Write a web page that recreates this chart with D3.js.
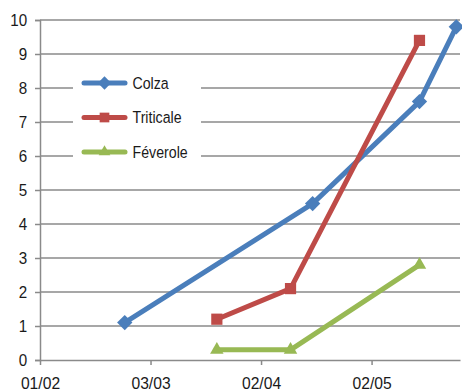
<!DOCTYPE html>
<html>
<head>
<meta charset="utf-8">
<title>Chart</title>
<script src="https://d3js.org/d3.v7.min.js"></script>
<style>
  body { margin: 0; background: #fff; }
  text { font-family: "Liberation Sans", Arial, sans-serif; font-size: 16.5px; fill: #1a1a1a; }
</style>
</head>
<body>
<svg width="462" height="392"></svg>
<script>
// dates are day/month, all in the same season
const xTicks = ["01/02", "03/03", "02/04", "02/05"];
const colzaDates = ["24/02", "16/04", "15/05", "25/05"];
const colzaValues = [1.1, 4.6, 7.6, 9.8];
const triticaleDates = ["21/03", "10/04", "15/05"];
const triticaleValues = [1.2, 2.1, 9.4];
const feveroleDates = ["21/03", "10/04", "15/05"];
const feveroleValues = [0.3, 0.3, 2.8];
const yTicks = [0, 1, 2, 3, 4, 5, 6, 7, 8, 9, 10];

const parse = d3.timeParse("%d/%m/%Y");
const toDate = s => parse(s + "/2013");

const series = [
  { name: "Colza", color: "#4a7ebb", symbol: d3.symbolDiamond2, size: 150, dates: colzaDates, values: colzaValues },
  { name: "Triticale", color: "#be4b48", symbol: d3.symbolSquare2, size: 160, dates: triticaleDates, values: triticaleValues },
  { name: "Féverole", color: "#98b954", symbol: d3.symbolTriangle2, size: 130, dates: feveroleDates, values: feveroleValues }
];

const svg = d3.select("svg");
const m = { left: 40, right: 460, top: 20, bottom: 360 };

const x = d3.scaleTime()
  .domain([toDate("01/02"), d3.timeDay.offset(toDate("01/02"), 114.5)])
  .range([m.left, m.right]);
const y = d3.scaleLinear().domain([0, 10]).range([m.bottom, m.top]);

// gridlines
svg.append("g")
  .selectAll("line")
  .data(yTicks.filter(d => d > 0))
  .join("line")
  .attr("x1", m.left).attr("x2", m.right)
  .attr("y1", d => y(d)).attr("y2", d => y(d))
  .attr("stroke", "#8a8a8a").attr("stroke-width", 1.5);

// y axis
const yAxis = svg.append("g")
  .attr("transform", `translate(${m.left},0)`)
  .call(d3.axisLeft(y).tickValues(yTicks).tickSize(5).tickPadding(9));
yAxis.select(".domain").attr("stroke", "#8a8a8a").attr("stroke-width", 1.5);
yAxis.selectAll(".tick line").attr("stroke", "#8a8a8a").attr("stroke-width", 1.5);
yAxis.selectAll(".tick text").attr("dy", "0.34em").attr("transform", "scale(0.92,1)");

// x axis
const xAxis = svg.append("g")
  .attr("transform", `translate(0,${m.bottom})`)
  .call(d3.axisBottom(x).tickValues(xTicks.map(toDate)).tickFormat(d3.timeFormat("%d/%m")).tickSize(5).tickPadding(12).tickSizeOuter(0));
xAxis.select(".domain").attr("stroke", "#8a8a8a").attr("stroke-width", 1.5);
xAxis.selectAll(".tick line").attr("stroke", "#8a8a8a").attr("stroke-width", 1.5);
xAxis.selectAll(".tick text").attr("transform", "scale(0.95,1)");

// series
const line = d3.line().x(d => x(d[0])).y(d => y(d[1]));
series.forEach(s => {
  const pts = s.dates.map((d, i) => [toDate(d), s.values[i]]);
  svg.append("path")
    .attr("d", line(pts))
    .attr("fill", "none")
    .attr("stroke", s.color)
    .attr("stroke-width", 5)
    .attr("stroke-linejoin", "round");
  svg.append("g").selectAll("path")
    .data(pts)
    .join("path")
    .attr("transform", d => `translate(${x(d[0])},${y(d[1])})`)
    .attr("d", d3.symbol(s.symbol, s.size))
    .attr("fill", s.color);
});

// legend
const legend = svg.append("g");
legend.append("rect")
  .attr("x", 73).attr("y", 66).attr("width", 128).attr("height", 104)
  .attr("fill", "#fff");
series.forEach((s, i) => {
  const ly = 83 + i * 34.5;
  legend.append("line")
    .attr("x1", 84).attr("x2", 125).attr("y1", ly).attr("y2", ly)
    .attr("stroke", s.color).attr("stroke-width", 5).attr("stroke-linecap", "round");
  legend.append("path")
    .attr("transform", `translate(104.5,${ly})`)
    .attr("d", d3.symbol(s.symbol, s.size * 0.75))
    .attr("fill", s.color);
  legend.append("text")
    .attr("transform", `translate(132.5,${ly}) scale(0.86,1)`)
    .attr("dy", "0.35em")
    .text(s.name);
});
</script>
</body>
</html>
